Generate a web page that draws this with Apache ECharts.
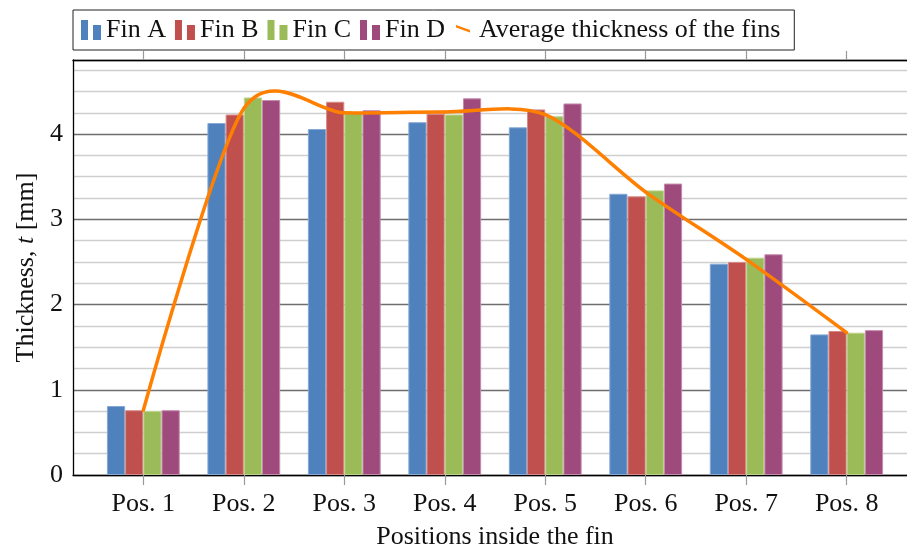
<!DOCTYPE html>
<html>
<head>
<meta charset="utf-8">
<title>Fin thickness</title>
<script src="https://cdn.jsdelivr.net/npm/echarts@6/dist/echarts.min.js"></script>
<style>
  html, body { margin: 0; padding: 0; background: #fff; }
  #chart { width: 907px; height: 548px; }
</style>
</head>
<body>
<div id="chart"></div>
<script>
// Measurement positions along the fin and their tick labels
const positions = [1, 2, 3, 4, 5, 6, 7, 8];
const positionLabels = ['Pos. 1', 'Pos. 2', 'Pos. 3', 'Pos. 4', 'Pos. 5', 'Pos. 6', 'Pos. 7', 'Pos. 8'];

// Measured thickness of each fin (mm)
const finA = [0.81, 4.13, 4.06, 4.14, 4.08, 3.30, 2.48, 1.65];
const finB = [0.76, 4.23, 4.38, 4.24, 4.29, 3.27, 2.50, 1.69];
const finC = [0.75, 4.43, 4.25, 4.23, 4.21, 3.34, 2.55, 1.67];
const finD = [0.76, 4.40, 4.28, 4.42, 4.36, 3.42, 2.59, 1.70];

// Average thickness of the four fins (mm)
const avgThickness = [0.76, 4.30, 4.25, 4.26, 4.23, 3.32, 2.53, 1.67];

const FONT = 'Liberation Serif';
const TEXT = '#111';
const ORANGE = '#FF7F00';
const TENSION = 0.14;

const barIcon = 'path://M0,0h7v20h-7z M12,5h8v15h-8z';
const lineIcon = 'path://M0,0L0,0 M2,5L16,10L16,12.5L2,7.5Z M20,20L20,20';

function pairs(values) {
  return positions.map((p, i) => [p, values[i]]);
}

function barSeries(name, values, color, border) {
  return {
    name: name,
    type: 'bar',
    xAxisIndex: 0,
    yAxisIndex: 0,
    barWidth: 18.2,
    barGap: '0%',
    data: pairs(values),
    itemStyle: { color: color, borderColor: border, borderWidth: 1 },
    emphasis: { disabled: true }
  };
}

// Smooth curve through the averages, one cubic segment per interval
function renderSmooth(params, api) {
  const i = params.dataIndex;
  const n = avgThickness.length;
  if (i >= n - 1) return { type: 'group', children: [] };
  const pt = k => api.coord([positions[k], avgThickness[k]]);
  const p0 = pt(i), p1 = pt(i + 1);
  let c1 = p0, c2 = p1;
  if (i > 0) {
    const pm = pt(i - 1);
    c1 = [p0[0] + TENSION * (p1[0] - pm[0]), p0[1] + TENSION * (p1[1] - pm[1])];
  }
  if (i + 2 < n) {
    const p2 = pt(i + 2);
    c2 = [p1[0] - TENSION * (p2[0] - p0[0]), p1[1] - TENSION * (p2[1] - p0[1])];
  }
  return {
    type: 'bezierCurve',
    shape: { x1: p0[0], y1: p0[1], cpx1: c1[0], cpy1: c1[1], cpx2: c2[0], cpy2: c2[1], x2: p1[0], y2: p1[1] },
    style: { stroke: ORANGE, lineWidth: 3.5, fill: null, lineCap: 'round' }
  };
}

const chart = echarts.init(document.getElementById('chart'), null, { renderer: 'canvas' });

chart.setOption({
  animation: false,
  textStyle: { fontFamily: FONT },
  legend: {
    left: 73,
    top: 10,
    padding: [7, 14, 7, 8],
    itemGap: 9,
    itemWidth: 20,
    itemHeight: 20,
    borderColor: '#222',
    borderWidth: 1,
    selectedMode: false,
    itemStyle: { borderWidth: 0 },
    textStyle: { fontFamily: FONT, fontSize: 26, color: TEXT, lineHeight: 26 },
    data: [
      { name: 'Fin A', icon: barIcon },
      { name: 'Fin B', icon: barIcon },
      { name: 'Fin C', icon: barIcon },
      { name: 'Fin D', icon: barIcon },
      { name: 'Average thickness of the fins', icon: lineIcon }
    ]
  },
  grid: { left: 73, right: -10, top: 60, bottom: 73, outerBoundsMode: 'none' },
  xAxis: [
    {
      type: 'value',
      position: 'bottom',
      min: 0.3,
      max: 8.7,
      axisLine: { show: true, lineStyle: { color: '#000', width: 1.3 } },
      axisTick: { show: true, customValues: positions, length: 10, lineStyle: { color: '#999', width: 1.2 } },
      axisLabel: {
        customValues: positions,
        formatter: v => positionLabels[positions.indexOf(v)],
        margin: 16,
        fontFamily: FONT,
        fontSize: 26,
        color: TEXT
      },
      splitLine: { show: false },
      name: 'Positions inside the fin',
      nameLocation: 'middle',
      nameGap: 49,
      nameTextStyle: { fontFamily: FONT, fontSize: 26, color: TEXT }
    },
    {
      type: 'value',
      position: 'top',
      min: 0.3,
      max: 8.7,
      axisLine: { show: true, lineStyle: { color: '#000', width: 1.3 } },
      axisTick: { show: true, customValues: positions, length: 9, lineStyle: { color: '#999', width: 1.2 } },
      axisLabel: { show: false },
      splitLine: { show: false }
    }
  ],
  yAxis: {
    type: 'value',
    min: 0,
    max: 4.87,
    interval: 0.25,
    axisLine: { show: true, lineStyle: { color: '#000', width: 1.3 } },
    axisTick: { show: false },
    axisLabel: {
      formatter: v => (Number.isInteger(v) ? String(v) : ''),
      margin: 10,
      fontFamily: FONT,
      fontSize: 26,
      color: TEXT
    },
    splitLine: {
      show: true,
      lineStyle: { color: ['#6e6e6e', '#cfcfcf', '#cfcfcf', '#cfcfcf'], width: 1.3 }
    },
    name: 'Thickness, {i|t} [mm]',
    nameLocation: 'middle',
    nameGap: 31,
    nameTextStyle: {
      fontFamily: FONT,
      fontSize: 26,
      color: TEXT,
      rich: { i: { fontFamily: FONT, fontSize: 26, fontStyle: 'italic', color: TEXT } }
    }
  },
  series: [
    barSeries('Fin A', finA, '#4F81BD', '#86A9D6'),
    barSeries('Fin B', finB, '#C0504D', '#D88A88'),
    barSeries('Fin C', finC, '#9BBB59', '#BED48E'),
    barSeries('Fin D', finD, '#9E4A7D', '#C58AAD'),
    {
      name: 'Average thickness of the fins',
      type: 'custom',
      xAxisIndex: 0,
      yAxisIndex: 0,
      z: 5,
      data: pairs(avgThickness),
      encode: { x: 0, y: 1 },
      itemStyle: { color: ORANGE },
      renderItem: renderSmooth
    }
  ]
});
</script>
</body>
</html>
